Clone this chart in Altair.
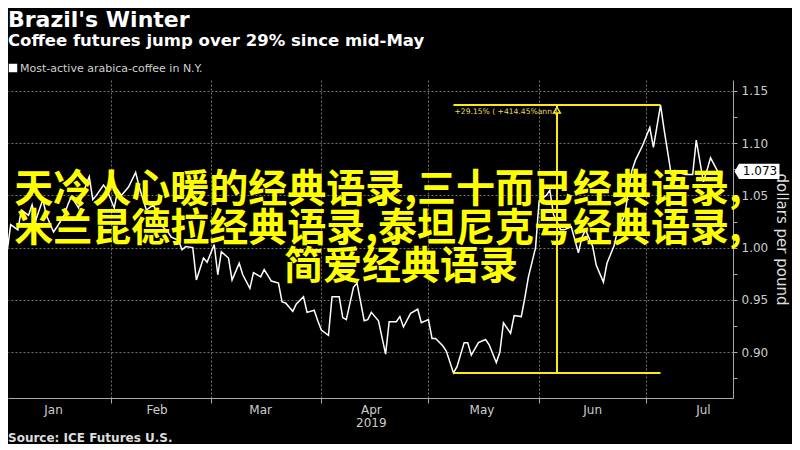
import altair as alt
import pandas as pd

# ---------------- data ----------------
dates = [
    "2019-01-02", "2019-01-03", "2019-01-04", "2019-01-06", "2019-01-07", "2019-01-09", "2019-01-10",
    "2019-01-11", "2019-01-13", "2019-01-14", "2019-01-16", "2019-01-17", "2019-01-19", "2019-01-20",
    "2019-01-21", "2019-01-23", "2019-01-24", "2019-01-26", "2019-01-27", "2019-01-28", "2019-01-30",
    "2019-01-31", "2019-02-02", "2019-02-03", "2019-02-04", "2019-02-06", "2019-02-08", "2019-02-09",
    "2019-02-11", "2019-02-13", "2019-02-14", "2019-02-15", "2019-02-17", "2019-02-18", "2019-02-20",
    "2019-02-21", "2019-02-22", "2019-02-24", "2019-02-25", "2019-02-27", "2019-02-28", "2019-03-02",
    "2019-03-03", "2019-03-04", "2019-03-06", "2019-03-07", "2019-03-09", "2019-03-10", "2019-03-12",
    "2019-03-13", "2019-03-15", "2019-03-16", "2019-03-18", "2019-03-20", "2019-03-21", "2019-03-22",
    "2019-03-24", "2019-03-25", "2019-03-27", "2019-03-28", "2019-03-30", "2019-03-31", "2019-04-01",
    "2019-04-03", "2019-04-04", "2019-04-06", "2019-04-07", "2019-04-08", "2019-04-10", "2019-04-11",
    "2019-04-13", "2019-04-14", "2019-04-15", "2019-04-17", "2019-04-19", "2019-04-20", "2019-04-22",
    "2019-04-23", "2019-04-24", "2019-04-26", "2019-04-28", "2019-04-29", "2019-05-01", "2019-05-02",
    "2019-05-03", "2019-05-05", "2019-05-06", "2019-05-08", "2019-05-09", "2019-05-11", "2019-05-12",
    "2019-05-13", "2019-05-15", "2019-05-17", "2019-05-18", "2019-05-20", "2019-05-21", "2019-05-22",
    "2019-05-24", "2019-05-25", "2019-05-27", "2019-05-28", "2019-05-29", "2019-05-31", "2019-06-01",
    "2019-06-03", "2019-06-04", "2019-06-05", "2019-06-07", "2019-06-08", "2019-06-10", "2019-06-12",
    "2019-06-13", "2019-06-14", "2019-06-16", "2019-06-17", "2019-06-19", "2019-06-20", "2019-06-22",
    "2019-06-23", "2019-06-25", "2019-06-26", "2019-06-27", "2019-06-28", "2019-06-30", "2019-07-02",
    "2019-07-03", "2019-07-05", "2019-07-06", "2019-07-08", "2019-07-09", "2019-07-11", "2019-07-12",
    "2019-07-14", "2019-07-15", "2019-07-17", "2019-07-18", "2019-07-19", "2019-07-21",
]
values = [
    1.017, 0.996, 1.022, 1.017, 1.036, 1.031, 1.041,
    1.026, 1.046, 1.031, 1.015, 1.020, 1.031, 1.041,
    1.049, 1.038, 1.050, 1.068, 1.046, 1.050, 1.060,
    1.055, 1.038, 1.055, 1.050, 1.058, 1.072, 1.058,
    1.036, 1.041, 1.031, 1.022, 1.015, 1.010, 1.007,
    0.998, 1.001, 1.000, 0.969, 0.990, 0.986, 1.003,
    0.974, 0.996, 0.990, 0.969, 0.985, 0.974, 0.961,
    0.976, 0.972, 0.979, 0.968, 0.966, 0.948, 0.947,
    0.939, 0.946, 0.953, 0.938, 0.940, 0.930, 0.921,
    0.916, 0.953, 0.953, 0.933, 0.931, 0.962, 0.966,
    0.930, 0.931, 0.938, 0.930, 0.898, 0.929, 0.929,
    0.934, 0.924, 0.937, 0.941, 0.928, 0.931, 0.913,
    0.913, 0.906, 0.901, 0.880, 0.886, 0.909, 0.909,
    0.897, 0.909, 0.912, 0.907, 0.890, 0.900, 0.928,
    0.918, 0.935, 0.934, 0.952, 0.972, 1.000, 1.045,
    1.050, 1.055, 1.032, 1.017, 1.017, 1.020, 0.995,
    1.010, 1.017, 1.001, 0.983, 0.967, 0.985, 1.002,
    1.017, 1.031, 1.055, 1.074, 1.084, 1.098, 1.115,
    1.096, 1.1365, 1.113, 1.070, 1.074, 1.071, 1.070,
    1.070, 1.103, 1.063, 1.074, 1.086, 1.073,
]

ann_low_date = "2019-05-08"
ann_high_date = "2019-07-05"
ann_mid_date = "2019-06-06"
ann_low = 0.880
ann_high = 1.1365
ann_label = "+29.15% ( +414.45%ann.)"

title_text = "Brazil's Winter"
subtitle_text = "Coffee futures jump over 29% since mid-May"
legend_text = "Most-active arabica-coffee in N.Y."
source_text = "Source: ICE Futures U.S."
y_title = "dollars per pound"
overlay_lines = [
    "天冷人心暖的经典语录,三十而已经典语录,",
    "米兰昆德拉经典语录,泰坦尼克号经典语录,",
    "简爱经典语录",
]

month_numbers = [1, 2, 3, 4, 5, 6, 7]
month_label_dates = ["2019-01-16", "2019-02-14", "2019-03-15", "2019-04-15",
                     "2019-05-16", "2019-06-16", "2019-07-17"]
month_labels = ["Jan", "Feb", "Mar", "Apr", "May", "Jun", "Jul"]
year_label_date = "2019-04-15"
year_label = "2019"
y_ticks = [0.875, 0.90, 0.925, 0.95, 0.975, 1.00, 1.025, 1.05, 1.075, 1.10, 1.125, 1.15]
y_domain = [0.856, 1.1605]

# ---------------- styling ----------------
W, H = 725, 318
YELLOW = "#ffe81a"
FONT = "DejaVu Sans"

x_domain = [
    alt.DateTime(year=2019, month=1, date=3, hours=6, utc=True),
    alt.DateTime(year=2019, month=7, date=25, hours=7, utc=True),
]
month_ticks = [alt.DateTime(year=2019, month=m, date=1, utc=True) for m in month_numbers]

x_enc = alt.X(
    "date:T",
    scale=alt.Scale(type="utc", domain=x_domain),
    axis=alt.Axis(
        title=None,
        values=month_ticks,
        labels=False,
        tickSize=5,
    ),
)
y_enc = alt.Y(
    "value:Q",
    scale=alt.Scale(domain=y_domain, nice=False, zero=False),
    axis=alt.Axis(
        orient="right",
        title=y_title,
        values=y_ticks,
        labelExpr="abs(datum.value*20 - round(datum.value*20)) < 0.001 ? format(datum.value, '.2f') : ''",
        gridOpacity={"condition": {"test": "abs(datum.value*20 - round(datum.value*20)) < 0.001", "value": 1}, "value": 0},
        tickSize=4,
        labelPadding=4,
        titlePadding=6,
    ),
)

df = pd.DataFrame({"date": dates, "value": values})

line = alt.Chart(df).mark_line(color="white", strokeWidth=1.5, clip=True).encode(x=x_enc, y=y_enc)

hrules_df = pd.DataFrame({
    "date": [ann_low_date, ann_low_date],
    "date2": [ann_high_date, ann_high_date],
    "value": [ann_low, ann_high],
})
hrules = alt.Chart(hrules_df).mark_rule(color=YELLOW, strokeWidth=2).encode(
    x=x_enc, x2="date2:T", y=y_enc
)

vrule_df = pd.DataFrame({"date": [ann_mid_date], "value": [ann_low], "value2": [ann_high]})
vrule = alt.Chart(vrule_df).mark_rule(color=YELLOW, strokeWidth=2).encode(
    x=x_enc, y=y_enc, y2="value2:Q"
)

tri_df = pd.DataFrame({"date": [ann_mid_date], "value": [ann_high]})
tri = alt.Chart(tri_df).mark_point(
    shape="triangle-up", filled=True, fill="black", stroke=YELLOW, strokeWidth=1.5,
    size=45, yOffset=5, opacity=1,
).encode(x=x_enc, y=y_enc)

ann_df = pd.DataFrame({"date": [ann_low_date], "value": [ann_high], "label": [ann_label]})
ann_text = alt.Chart(ann_df).mark_text(
    align="left", baseline="middle", dx=1, dy=7, fontSize=7.6, font=FONT, color="#e9df62"
).encode(x=x_enc, y=y_enc, text="label:N")

last_df = pd.DataFrame({
    "date": [dates[-1]], "value": [values[-1]], "label": [f"{values[-1]:.3f}"]
})
tag_shape = "M -1 0 L -0.8 -0.34 L 1 -0.34 L 1 0.34 L -0.8 0.34 Z"
tag = alt.Chart(last_df).mark_point(
    shape=tag_shape, filled=True, color="white", size=2025, opacity=1
).encode(x=alt.value(W + 24), y=y_enc)
tag_text = alt.Chart(last_df).mark_text(
    color="black", fontSize=12, font=FONT, align="center", baseline="middle"
).encode(x=alt.value(W + 27), y=y_enc, text="label:N")

months_df = pd.DataFrame({"date": month_label_dates, "label": month_labels})
month_text = alt.Chart(months_df).mark_text(
    color="#cccccc", fontSize=12, font=FONT, align="center", baseline="top"
).encode(x=x_enc, y=alt.value(H + 7), text="label:N")
year_df = pd.DataFrame({"date": [year_label_date], "label": [year_label]})
year_text = alt.Chart(year_df).mark_text(
    color="#cccccc", fontSize=12, font=FONT, align="center", baseline="top"
).encode(x=x_enc, y=alt.value(H + 20), text="label:N")


def label(text, x, y, size, weight="normal", color="white", align="left",
          baseline="alphabetic", font=FONT):
    return alt.Chart(pd.DataFrame({"t": [text]})).mark_text(
        align=align, baseline=baseline, fontSize=size, fontWeight=weight,
        color=color, font=font,
    ).encode(text="t:N", x=alt.value(x), y=alt.value(y))


title = label(title_text, 0, -53, 22, "bold")
subtitle = label(subtitle_text, 0, -34, 16.5, "bold")
legend_sq = alt.Chart(pd.DataFrame({"t": [legend_text]})).mark_square(
    color="white", size=72, opacity=1
).encode(x=alt.value(5), y=alt.value(-12))
legend_lbl = label(legend_text, 12, -8, 11, color="#d0d0d0")
source = label(source_text, 0, 362, 12, "bold", color="#dddddd")

cjk = "Noto Sans CJK SC"
ov1 = label(overlay_lines[0], 370, 110, 39, "bold", "#ffff00", "center", "middle", cjk)
ov2 = label(overlay_lines[1], 370, 149, 39, "bold", "#ffff00", "center", "middle", cjk)
ov3 = label(overlay_lines[2], 393, 187, 39, "bold", "#ffff00", "center", "middle", cjk)

chart = alt.layer(
    line, hrules, vrule, tri, ann_text, tag, tag_text, month_text, year_text,
    title, subtitle, legend_sq, legend_lbl, source,
    ov1, ov2, ov3,
).properties(
    width=W,
    height=H,
    background="black",
    padding={"left": 0, "top": 72, "right": 59, "bottom": 46},
    autosize=alt.AutoSizeParams(type="none"),
).configure_view(
    stroke=None
).configure_axis(
    domainColor="#aaaaaa",
    tickColor="#aaaaaa",
    labelColor="#cccccc",
    labelFont=FONT,
    labelFontSize=12,
    titleColor="#dddddd",
    titleFont=FONT,
    titleFontSize=15,
    titleFontWeight="normal",
    gridColor="#707070",
    gridDash=[2, 2],
    gridWidth=1,
)

chart.save("out.html", embed_options={"renderer": "svg", "actions": False})
